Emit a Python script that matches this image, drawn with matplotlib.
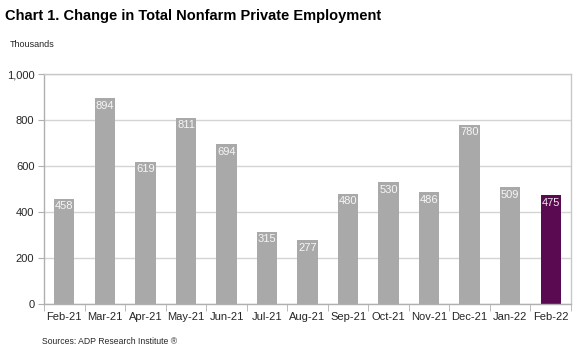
import numpy as np
import matplotlib.pyplot as plt

plt.rcParams['font.family'] = ['Liberation Sans', 'DejaVu Sans']

months = ["Feb-21", "Mar-21", "Apr-21", "May-21", "Jun-21", "Jul-21", "Aug-21",
          "Sep-21", "Oct-21", "Nov-21", "Dec-21", "Jan-22", "Feb-22"]
values = [458, 894, 619, 811, 694, 315, 277, 480, 530, 486, 780, 509, 475]
yticks = [0, 200, 400, 600, 800, 1000]
ytick_labels = ["0", "200", "400", "600", "800", "1,000"]

gray = "#A9A9A9"
purple = "#5A0A50"
colors = [gray] * (len(values) - 1) + [purple]

fig = plt.figure(figsize=(5.88, 3.56), dpi=100)
ax = fig.add_axes([0.075, 0.146, 0.896, 0.646])

x = np.arange(len(months))
bars = ax.bar(x, values, width=0.5, color=colors, zorder=2)

# labels inside the top of each bar
for xi, v in zip(x, values):
    ax.text(xi, v - 12, str(v), ha="center", va="top", color="white",
            fontsize=8, alpha=0.9, zorder=3)

ax.set_xlim(-0.5, len(months) - 0.5)
ax.set_ylim(0, 1000)
ax.set_yticks(yticks)
ax.set_yticklabels(ytick_labels)
ax.set_xticks(x)
ax.set_xticklabels(months)
ax.set_xticks(np.arange(-0.5, len(months), 1), minor=True)

ax.grid(axis="y", color="#D4D4D4", linewidth=1, zorder=0)
for s in ax.spines.values():
    s.set_color("#C8C8C8")
    s.set_linewidth(1)
ax.spines["left"].set_color("#B0B0B0")
ax.spines["bottom"].set_color("#B0B0B0")

ax.tick_params(axis="x", which="major", length=0, pad=6, labelsize=8, labelcolor="#262626")
ax.tick_params(axis="x", which="minor", length=5, color="#B0B0B0", direction="out")
ax.tick_params(axis="y", length=4, color="#B0B0B0", labelsize=8, labelcolor="#262626", pad=3)

fig.text(0.008, 0.955, "Chart 1. Change in Total Nonfarm Private Employment",
         fontsize=10.5, fontweight="bold", va="center", ha="left", color="black")
fig.text(0.017, 0.875, "Thousands", fontsize=6.5, va="center", ha="left", color="#262626")
fig.text(0.071, 0.04, "Sources: ADP Research Institute \u00ae", fontsize=6.2,
         va="center", ha="left", color="#262626")

fig.savefig("out.png", dpi=100)
